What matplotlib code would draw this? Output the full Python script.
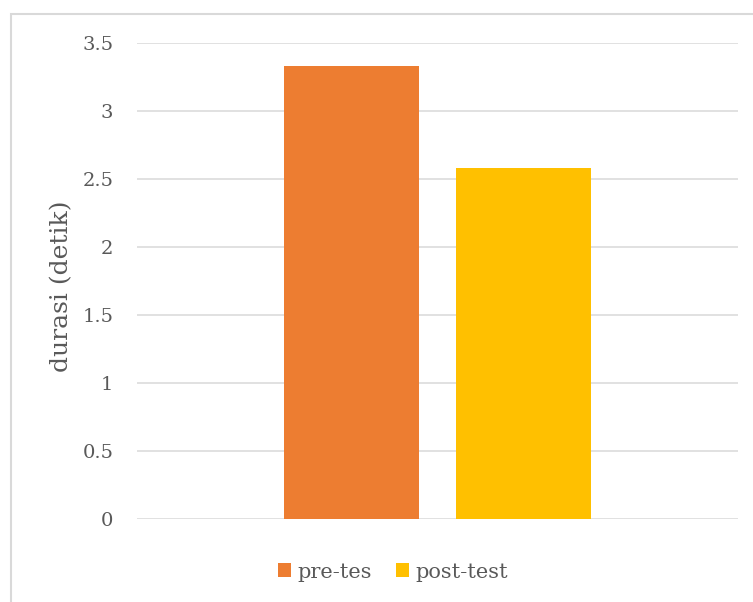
import matplotlib
matplotlib.use("Agg")
import matplotlib.pyplot as plt
from matplotlib.patches import Rectangle, Patch

series = ["pre-tes", "post-test"]
values = [3.33, 2.58]
colors = ["#ED7D31", "#FFC000"]
yticks = [0, 0.5, 1, 1.5, 2, 2.5, 3, 3.5]
ytick_labels = ["0", "0.5", "1", "1.5", "2", "2.5", "3", "3.5"]
ylabel = "durasi (detik)"

W, H = 753, 602
fig = plt.figure(figsize=(W / 100, H / 100), dpi=100)
plt.rcParams['font.family'] = ['DejaVu Serif']
text_color = "#595959"
grid_color = "#D9D9D9"

ax = fig.add_axes([137 / W, (H - 519) / H, (738 - 137) / W, (519 - 43) / H])
bw = 0.2246
offsets = [-0.143, 0.1425]
for s, v, c, o in zip(series, values, colors, offsets):
    ax.bar(o, v, width=bw, color=c, zorder=3)

ax.set_xlim(-0.5, 0.5)
ax.set_ylim(0, 3.5)
ax.set_yticks(yticks)
ax.set_yticklabels(ytick_labels, fontsize=14, color=text_color)
ax.set_xticks([])
ax.tick_params(axis='y', length=0, pad=17)
ax.yaxis.grid(True, color=grid_color, linewidth=1.1, zorder=0)
for sp in ax.spines.values():
    sp.set_visible(False)
ax.set_axisbelow(True)

fig.text(62 / W, 1 - 286 / H, ylabel, rotation=90, ha='center', va='center',
         rotation_mode='anchor', fontsize=18, color=text_color)

handles = [Patch(facecolor=c, edgecolor='none') for c in colors]
fig.legend(handles, series, loc='center', bbox_to_anchor=(393 / W, 1 - 572 / H),
           ncol=2, frameon=False, fontsize=15, labelcolor=text_color,
           handlelength=0.62, handleheight=0.62, handletextpad=0.3, columnspacing=1.2)

fig.patches.append(Rectangle((10.5 / W, -0.1), 2, (H - 13.5) / H + 0.1,
                             transform=fig.transFigure, fill=False,
                             edgecolor=grid_color, linewidth=1.5))

fig.savefig("out.png", dpi=100)
